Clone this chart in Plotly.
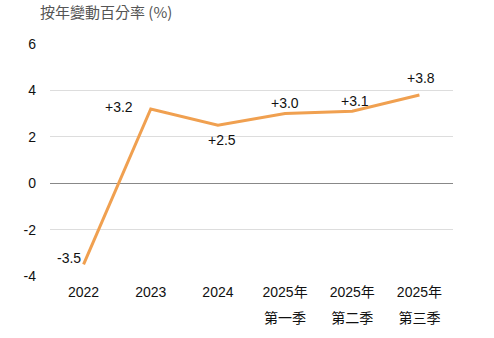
import plotly.graph_objects as go

categories = ["2022", "2023", "2024", "2025年第一季", "2025年第二季", "2025年第三季"]
tick_text = ["2022", "2023", "2024", "2025年<br>第一季", "2025年<br>第二季", "2025年<br>第三季"]
values = [-3.5, 3.2, 2.5, 3.0, 3.1, 3.8]
labels = ["-3.5", "+3.2", "+2.5", "+3.0", "+3.1", "+3.8"]
label_dx = [-15, -32, 4, 0, 3, 2]
label_dy = [6, 2, -15, 11, 10, 17]
y_ticks = [-4, -2, 0, 2, 4, 6]
y_tick_text = ["-4", "-2", "0", "2", "4", "6"]

font_family = "Liberation Sans, Arial, Noto Sans CJK TC, sans-serif"


def small(t):
    return "<br>".join(f"<span style='font-size:14px'>{p}</span>" for p in t.split("<br>"))


fig = go.Figure()
fig.add_trace(go.Scatter(
    x=categories, y=values, mode="lines",
    line=dict(color="#F0A050", width=3),
    hoverinfo="skip",
))

annotations = [
    dict(x=i, y=v, text=t, xref="x", yref="y", showarrow=False,
         xshift=dx, yshift=dy, font=dict(size=14, color="#111111", family=font_family))
    for i, (v, t, dx, dy) in enumerate(zip(values, labels, label_dx, label_dy))
]
annotations.append(dict(text="按年變動百分率 (%)", x=0, y=1, xref="paper", yref="paper",
                        xanchor="left", yanchor="bottom", yshift=20, xshift=-12, showarrow=False,
                        font=dict(size=15, color="#555555", family="Noto Sans CJK TC, sans-serif")))

fig.update_layout(
    width=494, height=338,
    margin=dict(l=50, r=41, t=44, b=62),
    plot_bgcolor="white", paper_bgcolor="white",
    showlegend=False,
    font=dict(family=font_family, size=14, color="#111111"),
    xaxis=dict(type="category", showgrid=False, showline=False, ticks="", automargin=False,
               tickvals=categories, ticktext=[small(t) for t in tick_text],
               tickfont=dict(size=20, color="#111111"), range=[-0.5, 5.5]),
    yaxis=dict(range=[-4, 6], tickvals=y_ticks, ticktext=y_tick_text, automargin=False,
               showgrid=True, gridcolor="#DDDDDD",
               zeroline=True, zerolinecolor="#888888", zerolinewidth=1,
               ticks="", ticklabelstandoff=13,
               tickfont=dict(size=14, color="#111111")),
    annotations=annotations,
)

fig.write_html("out.html")
